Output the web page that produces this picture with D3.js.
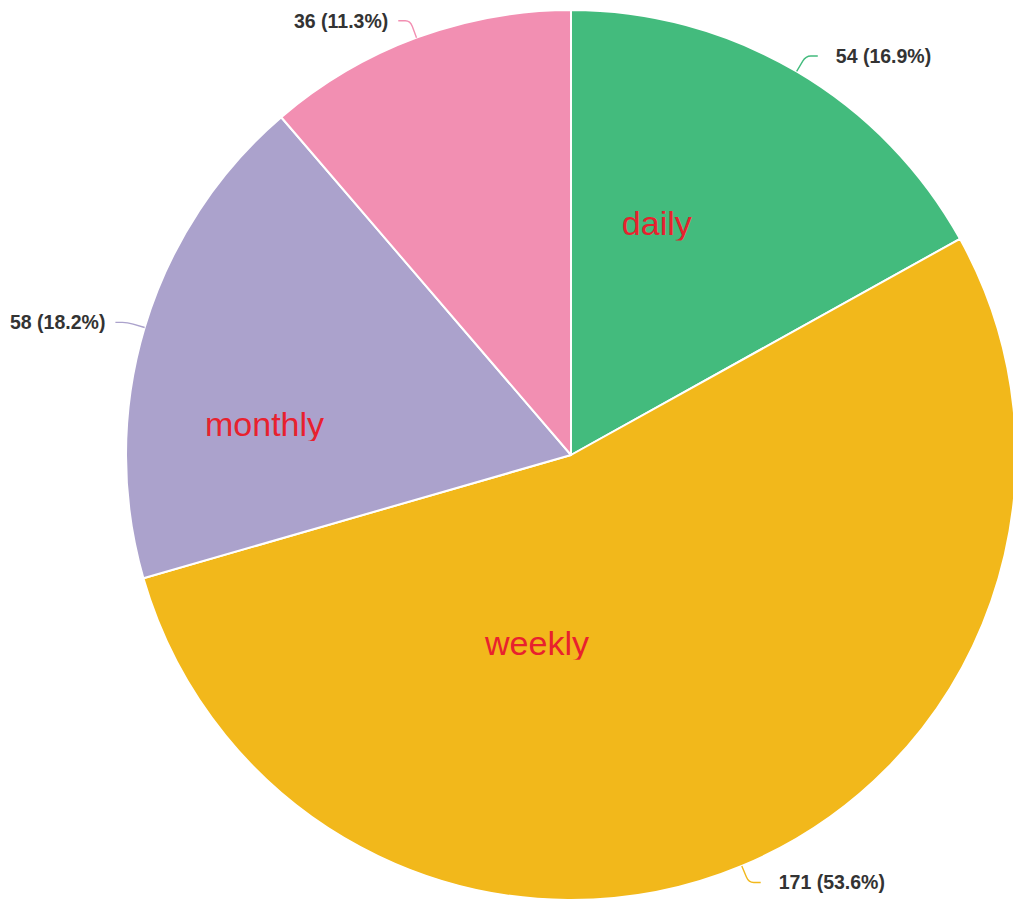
<!DOCTYPE html>
<html>
<head>
<meta charset="utf-8">
<script src="https://cdn.jsdelivr.net/npm/d3@7.9.0/dist/d3.min.js"></script>
<style>
  html, body { margin: 0; padding: 0; background: #fff; }
  svg { display: block; font-family: "Liberation Sans", Arial, sans-serif; }
</style>
</head>
<body>
<svg id="chart" width="1013" height="901"></svg>
<script>
// data
const categories = ['daily', 'weekly', 'monthly', ''];
const counts = [54, 171, 58, 36];
const colors = ['#43BB7D', '#F2B81B', '#ABA2CC', '#F28FB2'];

// where the inner name sits: fraction through the slice angle, fraction of radius
const nameSpots = [
    { t: 0.35, k: 0.53 },
    { t: 0.667, k: 0.455 },
    { t: 0.30, k: 0.69 },
    { t: 0.5, k: 0.5 }
];

const width = 1013, height = 901;
const cx = 571, cy = 455, radius = 445;

const total = d3.sum(counts);
const data = categories.map((c, i) => ({ name: c, value: counts[i], color: colors[i], spot: nameSpots[i] }));

const pie = d3.pie().sort(null).value(d => d.value);
const arcs = pie(data);
const arc = d3.arc().innerRadius(0).outerRadius(radius);

const svg = d3.select('#chart');
const defs = svg.append('defs');
const g = svg.append('g').attr('transform', `translate(${cx},${cy})`);

g.selectAll('path.slice')
    .data(arcs)
    .join('path')
    .attr('class', 'slice')
    .attr('d', arc)
    .attr('fill', d => d.data.color)
    .attr('stroke', '#fff')
    .attr('stroke-width', 2)
    .attr('stroke-linejoin', 'round');

function polar(angle, r) {
    return [Math.sin(angle) * r, -Math.cos(angle) * r];
}

// leader lines + value labels
const fmt = d3.format('.1f');
arcs.forEach(d => {
    const mid = (d.startAngle + d.endAngle) / 2;
    const right = Math.sin(mid) >= 0;
    const dir = right ? 1 : -1;
    const p0 = polar(mid, radius);
    const p1 = polar(mid, radius + 18);
    const p2 = [p1[0] + dir * 12, p1[1]];
    // rounded corner at p1
    const back = polar(mid, radius + 12);
    const fwd = [p1[0] + dir * 5, p1[1]];
    const path = d3.path();
    path.moveTo(p0[0], p0[1]);
    path.lineTo(back[0], back[1]);
    path.quadraticCurveTo(p1[0], p1[1], fwd[0], fwd[1]);
    path.lineTo(p2[0], p2[1]);
    g.append('path')
        .attr('d', path.toString())
        .attr('fill', 'none')
        .attr('stroke', d.data.color)
        .attr('stroke-width', 1.4);

    g.append('text')
        .attr('x', p2[0] + dir * (right ? 18 : 10))
        .attr('y', p2[1])
        .attr('dy', '0.35em')
        .attr('text-anchor', right ? 'start' : 'end')
        .attr('font-size', 19.5)
        .attr('font-weight', 'bold')
        .attr('fill', '#333')
        .text(`${d.data.value} (${fmt(d.data.value / total * 100)}%)`);
});

// category names inside the slices (descenders clipped)
const nameSize = 34;
arcs.forEach((d, i) => {
    if (!d.data.name) return;
    const a = d.startAngle + (d.endAngle - d.startAngle) * d.data.spot.t;
    const p = polar(a, radius * d.data.spot.k);
    const id = 'clip-' + i;
    defs.append('clipPath').attr('id', id)
        .append('rect')
        .attr('x', cx + p[0] - 150)
        .attr('y', cy + p[1] - nameSize)
        .attr('width', 300)
        .attr('height', nameSize * 1.15);
    svg.append('text')
        .attr('clip-path', `url(#${id})`)
        .attr('x', cx + p[0])
        .attr('y', cy + p[1])
        .attr('text-anchor', 'middle')
        .attr('font-size', nameSize)
        .attr('fill', '#E8212E')
        .text(d.data.name);
});
</script>
</body>
</html>
